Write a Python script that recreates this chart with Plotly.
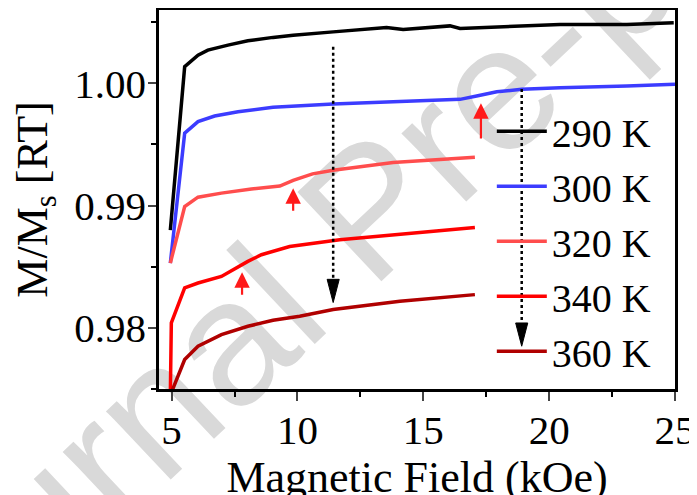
import plotly.graph_objects as go

# ---- data ----
series_names = ["290 K", "300 K", "320 K", "340 K", "360 K"]
series_colors = ["#000000", "#3c3cff", "#ff4d4d", "#ff0000", "#b00000"]

x_290 = [4.95, 5.52, 6.05, 6.44, 7.24, 8.03, 9.03, 9.83, 11.42, 13.54, 14.20, 16.06, 16.46, 17.77, 20.43, 23.09, 24.95]
y_290 = [0.9880, 1.00136, 1.00231, 1.00272, 1.00313, 1.00348, 1.00376, 1.00394, 1.00421, 1.00457, 1.00441, 1.00470, 1.00449, 1.00462, 1.00482, 1.00482, 1.00495]

x_300 = [4.95, 5.52, 6.05, 6.71, 7.64, 9.03, 11.42, 13.80, 15.93, 16.46, 17.12, 17.92, 18.91, 20.43, 23.09, 25.0]
y_300 = [0.9853, 0.99592, 0.99687, 0.99733, 0.99768, 0.99804, 0.99831, 0.99850, 0.99864, 0.99869, 0.99896, 0.99931, 0.99951, 0.99964, 0.99978, 0.99992]

x_320 = [4.95, 5.52, 6.05, 6.98, 8.17, 9.0, 9.30, 9.83, 10.6, 11.42, 13.80, 17.05]
y_320 = [0.9853, 0.98993, 0.99069, 0.99102, 0.99135, 0.99150, 0.99160, 0.99207, 0.99260, 0.99290, 0.99352, 0.99396]

x_340 = [4.95, 4.99, 5.52, 6.05, 6.98, 7.55, 8.03, 8.57, 9.69, 11.68, 13.80, 17.05]
y_340 = [0.9745, 0.98041, 0.98327, 0.98367, 0.98421, 0.98492, 0.98544, 0.98598, 0.98666, 0.98721, 0.98762, 0.98821]

x_360 = [4.95, 5.52, 6.05, 6.98, 8.03, 9.03, 10.09, 11.42, 14.07, 17.05]
y_360 = [0.9745, 0.97741, 0.97850, 0.97945, 0.98013, 0.98062, 0.98095, 0.98150, 0.98217, 0.98272]

# dotted guide arrows (x, y start, y tip)
dot_arrow_x = [11.42, 18.91]
dot_arrow_y0 = [1.0030, 0.99953]
dot_arrow_tip = [0.98207, 0.97850]

# red transition arrows (x, tail y, tip y)
red_arrow_x = [9.83, 7.80, 17.29]
red_arrow_tail = [0.98946, 0.98258, 0.99537]
red_arrow_tip = [0.99142, 0.98454, 0.99837]

x_tickvals = [5, 10, 15, 20, 25]
y_tickvals = [0.98, 0.99, 1.00]
y_ticktext = ["0.98", "0.99", "1.00"]

FONT = "Liberation Serif"

fig = go.Figure()

xs = [x_290, x_300, x_320, x_340, x_360]
ys = [y_290, y_300, y_320, y_340, y_360]
for name, col, xv, yv in zip(series_names, series_colors, xs, ys):
    fig.add_trace(go.Scatter(x=xv, y=yv, mode="lines", name=name,
                             line=dict(color=col, width=3.5), hoverinfo="skip"))

# dotted vertical guides with filled arrow heads
head_len = 0.0019
head_half = 0.24
for xa, y0, yt in zip(dot_arrow_x, dot_arrow_y0, dot_arrow_tip):
    fig.add_trace(go.Scatter(x=[xa, xa], y=[y0, yt + head_len], mode="lines",
                             line=dict(color="black", width=2.5, dash="dot"),
                             showlegend=False, hoverinfo="skip"))
    fig.add_trace(go.Scatter(x=[xa - head_half, xa + head_half, xa, xa - head_half],
                             y=[yt + head_len, yt + head_len, yt, yt + head_len],
                             mode="lines", fill="toself", fillcolor="black",
                             line=dict(color="black", width=1),
                             showlegend=False, hoverinfo="skip"))

annotations = []
for xa, yt0, yt1 in zip(red_arrow_x, red_arrow_tail, red_arrow_tip):
    annotations.append(dict(x=xa, y=yt1, ax=xa, ay=yt0, xref="x", yref="y",
                            axref="x", ayref="y", text="", showarrow=True,
                            arrowhead=2, arrowsize=1.4, arrowwidth=2.2,
                            arrowcolor="#ff1a1a"))

# the page body has an 8px margin, so the figure is offset by 8px in the window
fig.update_layout(
    width=689, height=495,
    margin=dict(l=151, r=22, t=2, b=114, autoexpand=False),
    paper_bgcolor="white", plot_bgcolor="white",
    font=dict(family=FONT, size=40, color="black"),
    showlegend=True,
    legend=dict(x=0.645, y=0.766, xanchor="left", yanchor="top",
                bgcolor="rgba(0,0,0,0)", font=dict(family=FONT, size=40),
                itemwidth=50, tracegroupgap=0),
    annotations=annotations,
    shapes=[dict(type="line", xref="paper", yref="paper",
                 x0=-0.027, y0=-0.018, x1=0.793, y1=1.032,
                 line=dict(color="rgba(0,0,0,0)", width=0), layer="below",
                 label=dict(text="Journal Pre-proof", textposition="middle",
                            yanchor="middle",
                            font=dict(family="Liberation Sans", size=178, color="#d9d9d9")))],
)

fig.update_xaxes(range=[4.5, 25], tickvals=x_tickvals, ticks="outside", ticklen=9,
                 tickwidth=2, showline=True, linewidth=2.5, linecolor="black",
                 mirror=True, showgrid=False, zeroline=False, automargin=False,
                 ticklabelstandoff=-6,
                 minor=dict(dtick=2.5, tick0=0, ticks="outside", ticklen=5, tickwidth=2, tickcolor="black"),
                 title=dict(text="Magnetic Field (kOe)", font=dict(size=44), standoff=7),
                 tickfont=dict(size=41))
fig.update_yaxes(range=[0.975, 1.006], tickvals=y_tickvals, ticktext=y_ticktext,
                 ticks="outside", ticklen=8, tickwidth=2, showline=True, linewidth=2.5,
                 linecolor="black", mirror=True, showgrid=False, zeroline=False, automargin=False,
                 ticklabelstandoff=-6,
                 minor=dict(dtick=0.005, tick0=0, ticks="outside", ticklen=5, tickwidth=2, tickcolor="black"),
                 title=dict(text="M/M<sub>s</sub> [RT]", font=dict(size=44), standoff=14),
                 tickfont=dict(size=41))

fig.write_html("out.html")
